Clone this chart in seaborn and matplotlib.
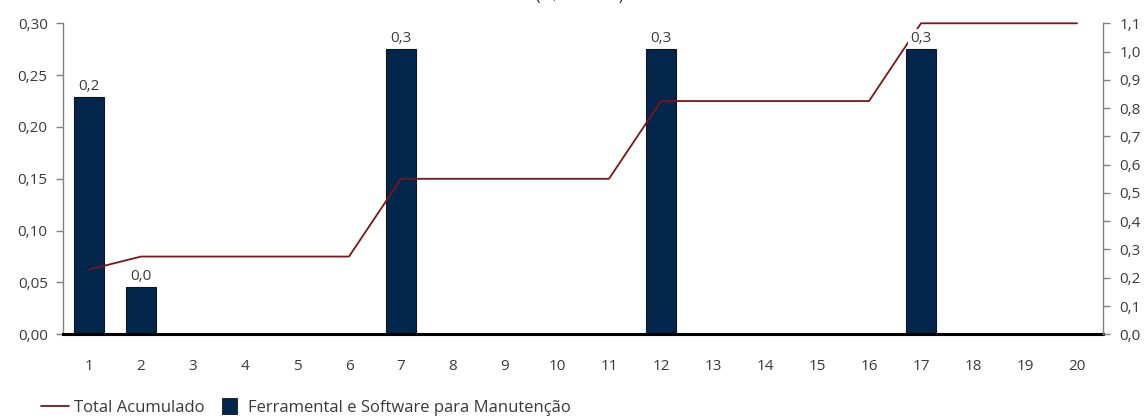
import numpy as np
import pandas as pd
import matplotlib
matplotlib.use("Agg")
import matplotlib.pyplot as plt
import matplotlib.patches as mpatches
from matplotlib.lines import Line2D
from matplotlib.legend_handler import HandlerPatch
import seaborn as sns

# Data
periods = [str(i) for i in range(1, 21)]
ferramental = [0.229, 0.046, 0, 0, 0, 0, 0.275, 0, 0, 0,
               0, 0.275, 0, 0, 0, 0, 0.275, 0, 0, 0]
total_acumulado = [0.229, 0.275, 0.275, 0.275, 0.275, 0.275, 0.550, 0.550, 0.550, 0.550,
                   0.550, 0.825, 0.825, 0.825, 0.825, 0.825, 1.100, 1.100, 1.100, 1.100]
left_ticks = [0.00, 0.05, 0.10, 0.15, 0.20, 0.25, 0.30]
right_ticks = [round(0.1 * i, 1) for i in range(12)]

bar_label = "Ferramental e Software para Manutenção"
line_label = "Total Acumulado"
bar_color = "#03264C"
line_color = "#7A1518"
text_color = "#3a3a3a"

sns.set_theme(style="white")
plt.rcParams["font.family"] = ["Open Sans", "DejaVu Sans"]

df = pd.DataFrame({"periodo": periods, "valor": ferramental, "acum": total_acumulado})

fig = plt.figure(figsize=(11.47, 4.19), dpi=100)
ax = fig.add_axes([63 / 1147, 1 - 334.3 / 419, (1103 - 63) / 1147, (334.3 - 23.3) / 419])

sns.barplot(data=df, x="periodo", y="valor", color=bar_color, width=0.56,
            edgecolor="#151515", linewidth=0.8, saturation=1, ax=ax, zorder=2)
ax.set_xlim(-0.5, len(periods) - 0.5)
ax.set_ylim(0, 0.30)
ax.set_yticks(left_ticks)
ax.set_yticklabels([f"{v:.2f}".replace(".", ",") for v in left_ticks])
ax.set_xticks(range(len(periods)))
ax.set_xticklabels(periods)
ax.set_xlabel("")
ax.set_ylabel("")

ax2 = ax.twinx()
sns.lineplot(x=np.arange(len(periods)), y=df["acum"], color=line_color,
             linewidth=1.3, ax=ax2, clip_on=False, zorder=3)
ax2.set_ylim(0, 1.1)
ax2.set_yticks(right_ticks)
ax2.set_yticklabels([f"{v:.1f}".replace(".", ",") for v in right_ticks])
ax2.set_ylabel("")
ax2.xaxis.set_visible(False)

# Value labels above the non-zero bars, boxed in white so they sit over the line
for i, v in enumerate(ferramental):
    if v > 0:
        ax2.text(i, v + 0.003, f"{v:.1f}".replace(".", ","), transform=ax.transData,
                 ha="center", va="bottom", fontsize=11, color=text_color, zorder=5,
                 bbox=dict(facecolor="white", edgecolor="none", pad=1.5))

for a in (ax, ax2):
    for s in a.spines.values():
        s.set_visible(False)
    a.grid(False)

ax.spines["left"].set_visible(True)
ax.spines["left"].set_color("#808080")
ax.spines["left"].set_linewidth(1.0)
ax2.spines["right"].set_visible(True)
ax2.spines["right"].set_color("#808080")
ax2.spines["right"].set_linewidth(1.0)
ax.spines["bottom"].set_visible(True)
ax.spines["bottom"].set_color("black")
ax.spines["bottom"].set_linewidth(2.2)
ax.spines["bottom"].set_zorder(4)

ax.tick_params(axis="y", which="both", left=True, length=5, width=1, color="#808080",
               direction="out", labelsize=11, labelcolor=text_color, pad=6)
ax2.tick_params(axis="y", right=True, length=5, width=1, color="#808080",
                direction="out", labelsize=11, labelcolor=text_color, pad=7)
ax.tick_params(axis="x", which="major", bottom=True, length=0, labelsize=11,
               labelcolor=text_color, pad=17.5)

# Heading at the top edge
fig.text(0.505, 1.0, "(R$ milhões)", ha="center", va="baseline",
         fontsize=11, color="#222222")

handles = [Line2D([], [], color=line_color, linewidth=1.3),
           mpatches.Rectangle((0, 0), 1, 1, facecolor=bar_color, edgecolor="#151515", linewidth=0.6)]


def square_patch(legend, orig_handle, xdescent, ydescent, width, height, fontsize):
    side = height * 1.35
    return mpatches.Rectangle((xdescent + (width - side) / 2, ydescent - (side - height) / 2),
                              side, side)


fig.legend(handles, [line_label, bar_label], loc="lower left",
           bbox_to_anchor=(26 / 1147, -12 / 419), ncol=2, frameon=False,
           fontsize=12, handlelength=1.65, handletextpad=0.3, columnspacing=0.7,
           labelcolor=text_color,
           handler_map={mpatches.Rectangle: HandlerPatch(patch_func=square_patch)})

fig.savefig("out.png", dpi=100)
